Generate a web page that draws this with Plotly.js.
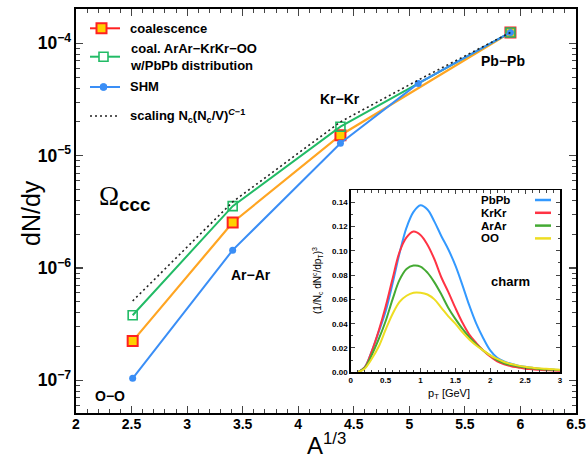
<!DOCTYPE html>
<html><head><meta charset="utf-8">
<script src="https://cdn.plot.ly/plotly-3.0.1.min.js"></script>
<style>html,body{margin:0;padding:0;background:#fff}#plot{width:587px;height:460px}</style>
</head><body><div id="plot"></div>
<script>
// ---- main panel data: dN/dy of Omega_ccc vs A^(1/3)
const xCoal = [2.51, 3.41, 4.38, 5.91];
const yCoal = [2.23e-7, 2.54e-6, 1.52e-5, 1.25e-4];
const xCoalAlt = [2.51, 3.41, 4.38, 5.91];
const yCoalAlt = [3.79e-7, 3.55e-6, 1.81e-5, 1.25e-4];
const xSHM = [2.51, 3.41, 4.38, 5.08, 5.91];
const ySHM = [1.04e-7, 1.44e-6, 1.29e-5, 4.40e-5, 1.25e-4];
const xScal = [2.51, 3.41, 4.38, 5.08, 5.91];
const yScal = [5.08e-7, 3.87e-6, 2.0e-5, 4.71e-5, 1.25e-4];
const xTicks = [2, 2.5, 3, 3.5, 4, 4.5, 5, 5.5, 6, 6.5];

// ---- inset data: charm pT distributions
const pT = [0.1,0.2,0.3,0.4,0.5,0.6,0.7,0.8,0.9,1.0,1.1,1.2,1.3,1.4,1.5,1.6,1.7,1.8,1.9,2.0,2.1,2.2,2.3,2.4,2.5,2.6,2.7,2.8,2.9,3.0];
const PbPb = [0,0.004,0.017,0.033,0.050,0.073,0.098,0.119,0.132,0.1375,0.134,0.124,0.112,0.101,0.088,0.072,0.055,0.040,0.028,0.018,0.012,0.009,0.007,0.0055,0.0045,0.0037,0.003,0.0026,0.0022,0.0019];
const KrKr = [0,0.004,0.017,0.034,0.054,0.077,0.099,0.111,0.1158,0.113,0.105,0.093,0.078,0.066,0.053,0.041,0.031,0.024,0.018,0.013,0.009,0.0065,0.005,0.004,0.003,0.0025,0.002,0.0017,0.0015,0.0013];
const ArAr = [0,0.0035,0.014,0.027,0.042,0.060,0.076,0.085,0.0878,0.087,0.082,0.074,0.064,0.053,0.044,0.036,0.029,0.023,0.018,0.014,0.010,0.0075,0.006,0.0048,0.004,0.0033,0.0028,0.0024,0.002,0.0018];
const OO = [0,0.003,0.011,0.021,0.035,0.048,0.058,0.063,0.0655,0.0655,0.064,0.060,0.053,0.046,0.040,0.033,0.027,0.022,0.018,0.014,0.011,0.0085,0.0068,0.0055,0.0046,0.0039,0.0033,0.0029,0.0025,0.0022];

const F = '"Liberation Sans", Arial, Helvetica, sans-serif';
const ORANGE = '#FFA522', RED = '#FF2020', YEL = '#FFD000', GREEN = '#22BB66', BLUE = '#3A8EF6';
const cPb = '#3399FF', cKr = '#FF3344', cAr = '#44AA33', cO = '#EEDD22';

const traces = [
  {x: xCoal, y: yCoal, mode: 'lines+markers', line: {color: ORANGE, width: 2.2},
   marker: {symbol: 'square', size: 10, color: YEL, line: {color: RED, width: 2}}, showlegend: false},
  {x: xCoalAlt, y: yCoalAlt, mode: 'lines+markers', line: {color: GREEN, width: 2},
   marker: {symbol: 'square-open', size: 9, color: GREEN, line: {width: 1.6}}, showlegend: false},
  {x: xSHM, y: ySHM, mode: 'lines+markers', line: {color: BLUE, width: 2},
   marker: {symbol: 'circle', size: 7, color: BLUE}, showlegend: false},
  {x: xScal, y: yScal, mode: 'lines', line: {color: '#222', width: 1.6, dash: '2px,3px'}, showlegend: false},
  {x: pT, y: PbPb, xaxis: 'x2', yaxis: 'y2', mode: 'lines', line: {color: cPb, width: 2, shape: 'spline'}, showlegend: false},
  {x: pT, y: KrKr, xaxis: 'x2', yaxis: 'y2', mode: 'lines', line: {color: cKr, width: 2, shape: 'spline'}, showlegend: false},
  {x: pT, y: ArAr, xaxis: 'x2', yaxis: 'y2', mode: 'lines', line: {color: cAr, width: 2, shape: 'spline'}, showlegend: false},
  {x: pT, y: OO, xaxis: 'x2', yaxis: 'y2', mode: 'lines', line: {color: cO, width: 2, shape: 'spline'}, showlegend: false}
];

// pixel helpers for paper coordinates (plot area 76..576 x 9..413)
const L = 76, R = 576, T = 9, B = 413;
const px = v => (v - L) / (R - L);
const py = v => (B - v) / (B - T);

function ann(xp, yp, text, size, opts) {
  return Object.assign({xref: 'paper', yref: 'paper', x: px(xp), y: py(yp), text: text, showarrow: false,
    font: {family: F, size: size, color: '#000'}, xanchor: 'center', yanchor: 'middle'}, opts || {});
}

const annotations = [
  // legend texts
  ann(128, 28.3, '<b>coalescence</b>', 13, {xanchor: 'left'}),
  ann(128, 56.7, '<b>coal. ArAr−KrKr−OO<br>w/PbPb distribution</b>', 13, {xanchor: 'left', align: 'left'}),
  ann(128, 87, '<b>SHM</b>', 13, {xanchor: 'left'}),
  ann(128, 116, '<b>scaling N<sub>c</sub>(N<sub>c</sub>/V)<sup><i>C</i>−1</sup></b>', 13, {xanchor: 'left'}),
  // system labels
  ann(110, 396, '<b>O−O</b>', 14),
  ann(251, 275, '<b>Ar−Ar</b>', 14),
  ann(340, 99, '<b>Kr−Kr</b>', 14),
  ann(503, 61, '<b>Pb−Pb</b>', 14),
  ann(97, 198, '<span style="font-family:\'Liberation Serif\', serif">Ω</span><sub><b>ccc</b></sub>', 27, {xanchor: 'left'}),
  // axis titles
  ann(326, 444, 'A<sup>1/3</sup>', 24),
  ann(31, 213, 'dN/dy', 25, {textangle: -90}),
  // inset texts
  ann(449, 394, 'p<sub>T</sub> [GeV]', 11),
  ann(317, 281, '(1/N<sub>c</sub> dN<sup>c</sup>/dp<sub>T</sub>)<sup>3</sup>', 10, {textangle: -90}),
  ann(510, 281, '<b>charm</b>', 13),
  ann(479, 200, '<b>PbPb</b>', 11.5, {xanchor: 'left'}),
  ann(479, 212.8, '<b>KrKr</b>', 11.5, {xanchor: 'left'}),
  ann(479, 225.6, '<b>ArAr</b>', 11.5, {xanchor: 'left'}),
  ann(479, 238.4, '<b>OO</b>', 11.5, {xanchor: 'left'})
];

const shapes = [
  // main legend swatches
  {type: 'line', xref: 'paper', yref: 'paper', x0: px(90), x1: px(120), y0: py(28.3), y1: py(28.3), line: {color: RED, width: 2}},
  {type: 'rect', xref: 'paper', yref: 'paper', x0: px(96.5), x1: px(106.5), y0: py(23.3), y1: py(33.3), fillcolor: YEL, line: {color: RED, width: 2}},
  {type: 'line', xref: 'paper', yref: 'paper', x0: px(90), x1: px(120), y0: py(56.7), y1: py(56.7), line: {color: GREEN, width: 2}},
  {type: 'rect', xref: 'paper', yref: 'paper', x0: px(99), x1: px(108), y0: py(52.2), y1: py(61.2), fillcolor: '#fff', line: {color: GREEN, width: 1.6}},
  {type: 'line', xref: 'paper', yref: 'paper', x0: px(90), x1: px(120), y0: py(87), y1: py(87), line: {color: BLUE, width: 2}},
  {type: 'circle', xref: 'paper', yref: 'paper', x0: px(100), x1: px(107), y0: py(83.5), y1: py(90.5), fillcolor: BLUE, line: {color: BLUE, width: 1}},
  {type: 'line', xref: 'paper', yref: 'paper', x0: px(90), x1: px(120), y0: py(116), y1: py(116), line: {color: '#222', width: 1.6, dash: '2px,3px'}},
  // inset legend swatches
  {type: 'line', xref: 'paper', yref: 'paper', x0: px(535), x1: px(551), y0: py(200), y1: py(200), line: {color: cPb, width: 2.5}},
  {type: 'line', xref: 'paper', yref: 'paper', x0: px(535), x1: px(551), y0: py(212.8), y1: py(212.8), line: {color: cKr, width: 2.5}},
  {type: 'line', xref: 'paper', yref: 'paper', x0: px(535), x1: px(551), y0: py(225.6), y1: py(225.6), line: {color: cAr, width: 2.5}},
  {type: 'line', xref: 'paper', yref: 'paper', x0: px(535), x1: px(551), y0: py(238.4), y1: py(238.4), line: {color: cO, width: 2.5}}
];

const tickFontMain = {family: F, size: 14, color: '#000', weight: 'bold'};
const tickFontInset = {family: F, size: 8, color: '#000', weight: 'bold'};

const layout = {
  width: 587, height: 460,
  margin: {l: L, r: 587 - R, t: T, b: 460 - B, pad: 0},
  paper_bgcolor: '#fff', plot_bgcolor: '#fff',
  showlegend: false,
  font: {family: F, color: '#000'},
  xaxis: {range: [2, 6.5], tickvals: xTicks, ticktext: xTicks.map(String), ticks: 'inside', ticklen: 7, tickwidth: 1.2,
    ticklabelstandoff: -3,
    minor: {dtick: 0.1, tick0: 2, ticks: 'inside', ticklen: 4, tickwidth: 1}, showgrid: false, zeroline: false,
    showline: true, linecolor: '#000', linewidth: 2, mirror: 'allticks', tickfont: tickFontMain},
  yaxis: {type: 'log', range: [-7.292, -3.694], dtick: 1, exponentformat: 'power', ticks: 'inside', ticklen: 7, tickwidth: 1.2,
    minor: {ticks: 'inside', ticklen: 4, tickwidth: 1, showgrid: false}, showgrid: false, zeroline: false,
    showline: true, linecolor: '#000', linewidth: 2, mirror: 'allticks', tickfont: tickFontMain},
  xaxis2: {domain: [px(350.7), px(560)], anchor: 'y2', range: [0, 3], dtick: 0.5, ticks: 'inside', ticklen: 4, tickwidth: 1,
    minor: {dtick: 0.1, ticks: 'inside', ticklen: 2.5}, showgrid: false, zeroline: false,
    showline: true, linecolor: '#000', linewidth: 1.5, mirror: 'allticks', tickfont: tickFontInset},
  yaxis2: {domain: [py(372.3), py(190)], anchor: 'x2', range: [0, 0.15], dtick: 0.02, tickformat: '.2f', ticks: 'inside', ticklen: 4, tickwidth: 1,
    minor: {dtick: 0.01, ticks: 'inside', ticklen: 2.5}, showgrid: false, zeroline: false,
    showline: true, linecolor: '#000', linewidth: 1.5, mirror: 'allticks', tickfont: tickFontInset},
  annotations: annotations,
  shapes: shapes
};

Plotly.newPlot('plot', traces, layout, {displayModeBar: false, staticPlot: true});
</script></body></html>
